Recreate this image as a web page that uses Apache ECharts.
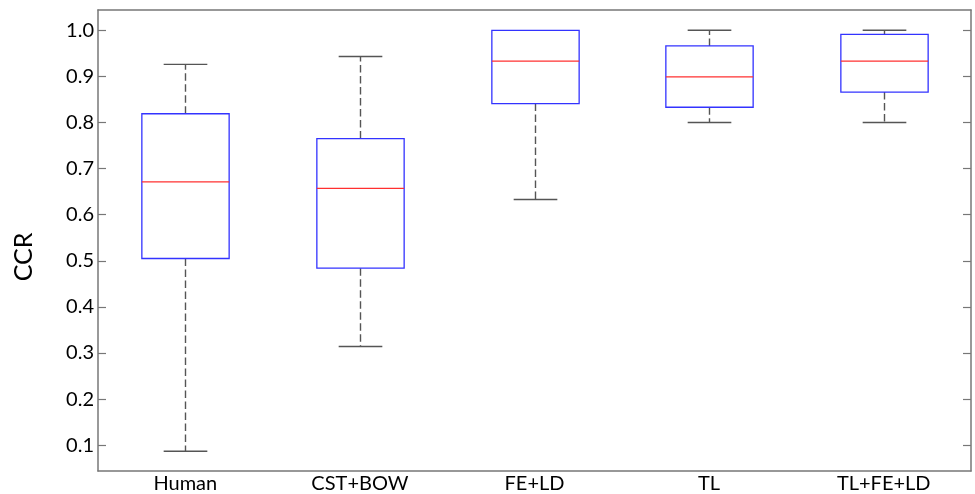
<!DOCTYPE html>
<html><head><meta charset="utf-8">
<script src="https://cdn.jsdelivr.net/npm/echarts@6/dist/echarts.min.js"></script>
<style>html,body{margin:0;padding:0;background:#fff}#c{width:975px;height:494px}</style>
</head><body><div id="c"></div>
<script>
const categories = ['Human', 'CST+BOW', 'FE+LD', 'TL', 'TL+FE+LD'];
const whiskerLow = [0.087, 0.314, 0.633, 0.800, 0.800];
const q1 = [0.505, 0.484, 0.841, 0.833, 0.866];
const median = [0.671, 0.657, 0.933, 0.899, 0.933];
const q3 = [0.819, 0.765, 1.000, 0.966, 0.991];
const whiskerHigh = [0.926, 0.943, 1.000, 1.000, 1.000];
const yTicks = [0.1, 0.2, 0.3, 0.4, 0.5, 0.6, 0.7, 0.8, 0.9, 1.0];

const boxData = categories.map((c, i) => [i, whiskerLow[i], q1[i], median[i], q3[i], whiskerHigh[i]]);

function renderItem(params, api) {
  const i = api.value(0);
  const band = api.size([1, 0])[0];
  const bh = band * 0.25, ch = band * 0.125;
  const pLow = api.coord([i, api.value(1)]);
  const pQ1 = api.coord([i, api.value(2)]);
  const pMed = api.coord([i, api.value(3)]);
  const pQ3 = api.coord([i, api.value(4)]);
  const pHigh = api.coord([i, api.value(5)]);
  const x = Math.round(pLow[0]) + 0.5;
  const dashStyle = { stroke: '#555', lineWidth: 1.4, lineDash: [7.5, 3.5] };
  const capStyle = { stroke: '#555', lineWidth: 1.4 };
  const children = [];
  if (pHigh[1] < pQ3[1] - 0.5) {
    children.push({ type: 'line', shape: { x1: x, y1: pQ3[1], x2: x, y2: pHigh[1] }, style: dashStyle });
    children.push({ type: 'line', shape: { x1: x - ch, y1: pHigh[1], x2: x + ch, y2: pHigh[1] }, style: capStyle });
  }
  if (pLow[1] > pQ1[1] + 0.5) {
    children.push({ type: 'line', shape: { x1: x, y1: pQ1[1], x2: x, y2: pLow[1] }, style: dashStyle });
    children.push({ type: 'line', shape: { x1: x - ch, y1: pLow[1], x2: x + ch, y2: pLow[1] }, style: capStyle });
  }
  children.push({ type: 'rect', shape: { x: x - bh, y: pQ3[1], width: 2 * bh, height: pQ1[1] - pQ3[1] },
    style: { fill: 'none', stroke: '#3333ff', lineWidth: 1.3 } });
  children.push({ type: 'line', shape: { x1: x - bh, y1: pMed[1], x2: x + bh, y2: pMed[1] },
    style: { stroke: '#ff3030', lineWidth: 1.3 } });
  return { type: 'group', children: children };
}

const axisLineStyle = { color: '#777', width: 1.5 };
const tickStyle = { color: '#777', width: 1.2 };
const labelFont = { color: '#000', fontFamily: 'Lato', fontSize: 20 };
const chart = echarts.init(document.getElementById('c'));
chart.setOption({
  animation: false,
  backgroundColor: '#fff',
  grid: { left: 98, right: 4, top: 10, bottom: 20 },
  xAxis: [
    { type: 'category', data: categories, position: 'bottom', boundaryGap: true,
      axisLine: { lineStyle: axisLineStyle },
      axisTick: { inside: true, alignWithLabel: true, length: 8, interval: 0, lineStyle: tickStyle },
      axisLabel: Object.assign({ interval: 0, margin: 3 }, labelFont),
      splitLine: { show: false } },
    { type: 'category', data: categories, position: 'top', boundaryGap: true,
      axisLine: { lineStyle: axisLineStyle },
      axisTick: { inside: true, alignWithLabel: true, length: 8, interval: 0, lineStyle: tickStyle },
      axisLabel: { show: false }, splitLine: { show: false } }
  ],
  yAxis: [
    { type: 'value', min: 0.044, max: 1.044, position: 'left',
      axisLine: { show: true, lineStyle: axisLineStyle },
      axisTick: { show: true, inside: true, length: 8, customValues: yTicks, lineStyle: tickStyle },
      axisLabel: Object.assign({ customValues: yTicks, margin: 4, formatter: v => v.toFixed(1) }, labelFont),
      splitLine: { show: false } },
    { type: 'value', min: 0.044, max: 1.044, position: 'right',
      axisLine: { show: true, lineStyle: axisLineStyle },
      axisTick: { show: true, inside: true, length: 8, customValues: yTicks, lineStyle: tickStyle },
      axisLabel: { show: false }, splitLine: { show: false } }
  ],
  graphic: [
    { type: 'text', x: 24, y: 257, rotation: Math.PI / 2,
      style: { text: 'CCR', font: '25px Lato', fill: '#000', align: 'center', verticalAlign: 'middle' } }
  ],
  series: [
    { type: 'custom', xAxisIndex: 0, yAxisIndex: 0, renderItem: renderItem,
      encode: { x: 0, y: [1, 2, 3, 4, 5] }, data: boxData }
  ]
});
</script></body></html>
